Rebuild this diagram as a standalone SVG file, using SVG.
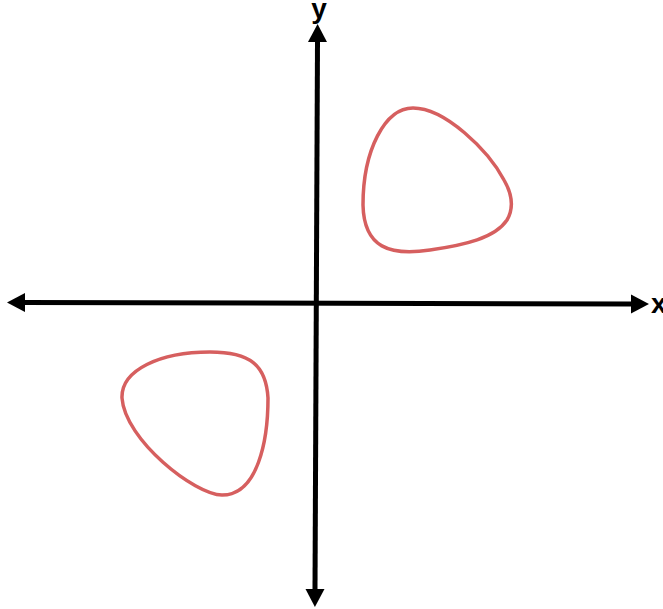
<svg xmlns="http://www.w3.org/2000/svg" width="663" height="609" viewBox="0 0 663 609">
<style>
.axis{stroke:#000;stroke-width:5;fill:none;marker-start:url(#ah);marker-end:url(#ah)}
.curve{fill:none;stroke:#d65f5f;stroke-width:3.5;stroke-linejoin:round}
.lbl{font-family:"Liberation Sans",Arial,sans-serif;font-weight:bold;font-size:28px;fill:#000}
</style>
<defs>
<marker id="ah" markerUnits="userSpaceOnUse" markerWidth="18" markerHeight="20" refX="0" refY="9.5" orient="auto-start-reverse" viewBox="0 0 18 19">
<path d="M0,0 L18,9.5 L0,19 z" fill="#000"/>
</marker>
</defs>
<rect width="663" height="609" fill="#fff"/>
<g id="connectors">
<line id="x-axis" class="axis" x1="25" y1="302.5" x2="631" y2="304"/>
<line id="y-axis" class="axis" x1="317.5" y1="42" x2="315" y2="589"/>
</g>
<g id="curve-upper">
<path class="curve" d="M363,205 C363,150 385,108 413,108 C445,108 488,150 504,180 C512,194 514,208 507,220 C495,238 465,245 430,250 C390,256 364,248 363,205 Z"/>
</g>
<g id="curve-lower">
<path class="curve" d="M122,398 C121,370 160,352 210,352 C250,352 266,365 268,398 C268,440 258,495 222,495 C195,495 125,440 122,398 Z"/>
</g>
<g id="label-y"><text class="lbl" x="319" y="18" text-anchor="middle">y</text></g>
<g id="label-x"><text class="lbl" x="651" y="313">x</text></g>
</svg>
